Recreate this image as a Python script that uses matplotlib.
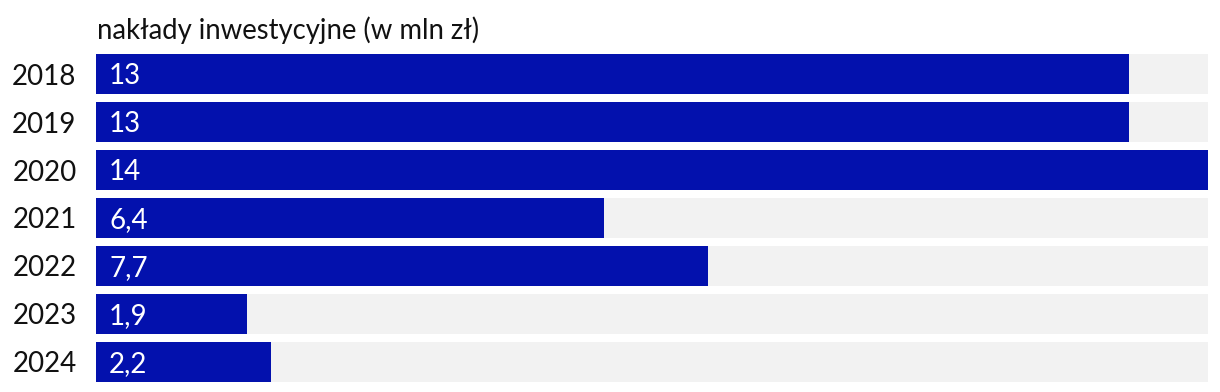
import matplotlib
matplotlib.use("Agg")
import matplotlib.pyplot as plt
from matplotlib.transforms import offset_copy

plt.rcParams['font.family'] = ['Lato', 'DejaVu Sans']

years = ["2018", "2019", "2020", "2021", "2022", "2023", "2024"]
values = [13, 13, 14, 6.4, 7.7, 1.9, 2.2]
labels = ["13", "13", "14", "6,4", "7,7", "1,9", "2,2"]
title = "nakłady inwestycyjne (w mln zł)"

W, H = 1220, 392
fig = plt.figure(figsize=(W / 100, H / 100), dpi=100)
ax = fig.add_axes([96 / W, (H - 386) / H, (1208 - 96) / W, 336 / H])

vmax = max(values)
pos = list(range(len(years)))
ax.barh(pos, [vmax] * len(values), height=40 / 48, color="#F2F2F2", left=0)
ax.barh(pos, values, height=40 / 48, color="#0311AD", left=0)

ax.set_xlim(0, vmax)
ax.set_ylim(len(years) - 0.5, -0.5)
for s in ax.spines.values():
    s.set_visible(False)
ax.set_xticks([])
ax.set_yticks(pos)
ax.set_yticklabels(years, fontsize=20, color="#111111")
ax.tick_params(axis="y", length=0, pad=14)

for p, lab in zip(pos, labels):
    ax.text(0, p, lab, transform=offset_copy(ax.transData, fig=fig, x=13, y=-2, units="dots"),
            ha="left", va="center", color="white", fontsize=20)

fig.text(97 / W, 1 - 30 / H, title, ha="left", va="center", fontsize=19.8, color="#111111")

fig.savefig("out.png", dpi=100)
